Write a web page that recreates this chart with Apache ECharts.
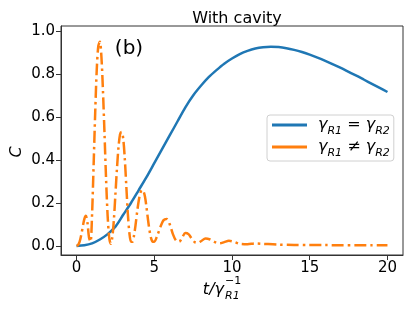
<!DOCTYPE html>
<html>
<head>
<meta charset="utf-8">
<script src="https://cdn.jsdelivr.net/npm/echarts@6/dist/echarts.min.js"></script>
<style>html,body{margin:0;padding:0;background:#fff}#c{width:414px;height:311px}</style>
</head>
<body>
<div id="c"></div>
<script>
// ---- data ----
var tBlue = [0,0.5,1,1.5,2,2.5,3,3.5,4,4.5,5,5.5,6,6.5,7,7.5,8,8.5,9,9.5,10,10.5,11,11.5,12,12.5,13,13.5,14,14.5,15,15.5,16,16.5,17,17.5,18,18.5,19,19.5,20];
var cBlue = [0,0.003,0.012,0.03,0.055,0.09,0.145,0.2,0.26,0.32,0.385,0.45,0.515,0.58,0.645,0.7,0.745,0.785,0.818,0.848,0.872,0.892,0.907,0.918,0.924,0.926,0.925,0.92,0.912,0.902,0.89,0.876,0.861,0.845,0.828,0.81,0.792,0.773,0.754,0.735,0.716];
var tOrange = [0,0.1,0.2,0.3,0.4,0.5,0.6,0.7,0.8,0.9,1.0,1.1,1.2,1.3,1.4,1.5,1.6,1.7,1.8,1.9,2.0,2.1,2.2,2.3,2.4,2.5,2.6,2.7,2.8,2.9,3.0,3.1,3.2,3.3,3.4,3.5,3.6,3.7,3.8,3.9,4.0,4.1,4.2,4.3,4.4,4.5,4.6,4.7,4.8,4.9,5.0,5.2,5.4,5.6,5.8,6.0,6.2,6.4,6.6,6.8,7.0,7.2,7.4,7.6,7.8,8.0,8.3,8.6,8.9,9.2,9.5,9.8,10.1,10.5,11,11.5,12,13,14,15,16,17,18,19,20];
var cOrange = [0,0.005,0.02,0.05,0.09,0.125,0.14,0.11,0.04,0.02,0.15,0.38,0.62,0.82,0.93,0.95,0.88,0.72,0.52,0.31,0.14,0.04,0.01,0.04,0.12,0.24,0.36,0.46,0.52,0.53,0.5,0.41,0.28,0.15,0.06,0.02,0.02,0.05,0.1,0.16,0.21,0.245,0.26,0.255,0.23,0.18,0.12,0.07,0.035,0.02,0.02,0.05,0.09,0.12,0.125,0.1,0.055,0.025,0.02,0.04,0.06,0.055,0.035,0.018,0.015,0.022,0.035,0.03,0.018,0.012,0.018,0.024,0.02,0.01,0.008,0.012,0.01,0.006,0.005,0.004,0.004,0.003,0.003,0.003,0.003];
var xTicks = [0,5,10,15,20];
var yTicks = [0,0.2,0.4,0.6,0.8,1.0];
var seriesNames = ['eq','neq'];

function pairs(t, c){ return t.map(function(v,i){ return [v, c[i]]; }); }

var FONT = 'DejaVu Sans';
var chart = echarts.init(document.getElementById('c'), null, {renderer:'canvas'});
var sub = {fontFamily:FONT, fontStyle:'italic', fontSize:11, lineHeight:13, verticalAlign:'bottom', color:'#000'};
var g = {fontFamily:FONT, fontStyle:'italic', fontSize:16, lineHeight:24, color:'#000'};
var n = {fontFamily:FONT, fontSize:16, lineHeight:24, color:'#000'};
chart.setOption({
  animation:false,
  backgroundColor:'#fff',
  title:{text:'With cavity', left:232, top:6, textAlign:'center',
    textStyle:{fontFamily:FONT, fontWeight:'normal', fontSize:16, color:'#000'}},
  grid:{left:61, right:11, top:26, bottom:56, show:true, borderColor:'#333', borderWidth:1, backgroundColor:'transparent'},
  xAxis:{type:'value', min:-1, max:21,
    axisLine:{show:true, onZero:false, lineStyle:{color:'#333'}},
    axisTick:{show:true, length:5, customValues:xTicks, lineStyle:{color:'#333'}},
    axisLabel:{customValues:xTicks, fontFamily:FONT, fontSize:15, color:'#000', margin:6},
    splitLine:{show:false}},
  yAxis:{type:'value', min:-0.042, max:1.023,
    axisLine:{show:true, onZero:false, lineStyle:{color:'#333'}},
    axisTick:{show:true, length:5, customValues:yTicks, lineStyle:{color:'#333'}},
    axisLabel:{customValues:yTicks, fontFamily:FONT, fontSize:15, color:'#000', margin:6,
      formatter:function(v){ return v.toFixed(1); }},
    splitLine:{show:false}},
  legend:{orient:'vertical', left:267, top:115, padding:[2,4,2,5], itemGap:2,
    itemWidth:35, itemHeight:3, icon:'rect',
    borderColor:'#d0d0d0', borderWidth:1, borderRadius:3, backgroundColor:'#fff',
    data:seriesNames,
    formatter:function(name){
      return name==='eq' ? '{g|γ}{s|R1}{n| = }{g|γ}{s|R2}' : '{g|γ}{s|R1}{n| ≠ }{g|γ}{s|R2}';
    },
    textStyle:{padding:[0,0,0,6], rich:{g:g, s:sub, n:n}}},
  graphic:[
    {type:'text', x:17, y:152, rotation:Math.PI/2,
      style:{text:'C', fontFamily:FONT, fontStyle:'italic', fontSize:16, fill:'#000', align:'center', verticalAlign:'middle'}},
    {type:'text', x:129, y:49,
      style:{text:'(b)', fontFamily:FONT, fontSize:20, fill:'#000', align:'center', verticalAlign:'middle'}},
    {type:'text', x:224, y:290,
      style:{text:'t/γ', fontFamily:FONT, fontStyle:'italic', fontSize:16, fill:'#000', align:'right', verticalAlign:'middle'}},
    {type:'text', x:225, y:296,
      style:{text:'R1', fontFamily:FONT, fontStyle:'italic', fontSize:11, fill:'#000', align:'left', verticalAlign:'middle'}},
    {type:'text', x:225, y:281,
      style:{text:'−1', fontFamily:FONT, fontSize:11, fill:'#000', align:'left', verticalAlign:'middle'}}
  ],
  series:[
    {name:'eq', type:'line', data:pairs(tBlue,cBlue), smooth:0.3, showSymbol:false, symbol:'none',
      lineStyle:{color:'#1f77b4', width:2.5}, itemStyle:{color:'#1f77b4'}, z:2},
    {name:'neq', type:'line', data:pairs(tOrange,cOrange), smooth:0.3, showSymbol:false, symbol:'none',
      lineStyle:{color:'#ff7f0e', width:2.5, type:[12,4,2.5,4]}, itemStyle:{color:'#ff7f0e'}, z:3}
  ]
});
</script>
</body>
</html>
